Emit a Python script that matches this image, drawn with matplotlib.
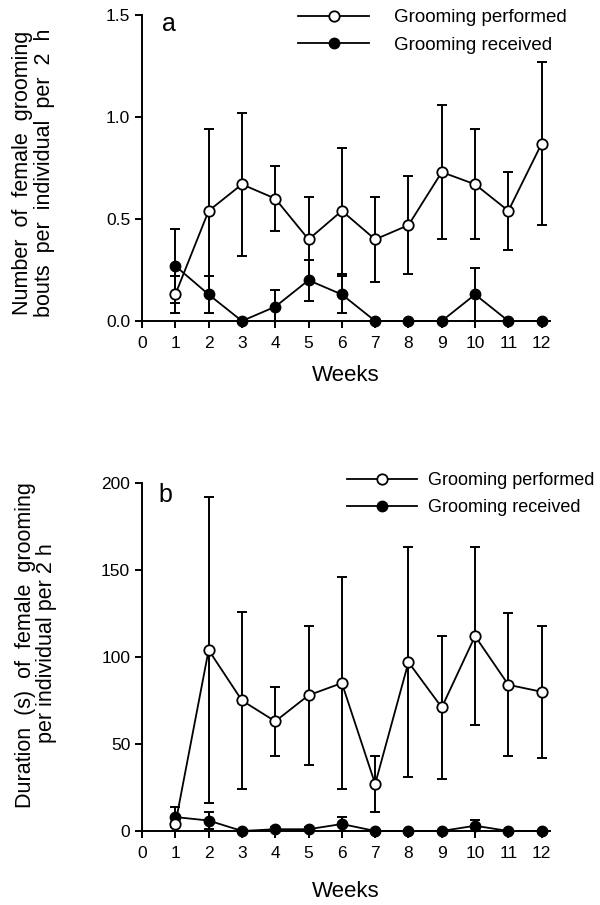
import numpy as np
from matplotlib import pyplot as plt

weeks = np.arange(1, 13)
week_labels = ['0', '1', '2', '3', '4', '5', '6', '7', '8', '9', '10', '11', '12']

# panel a: bouts per individual per 2 h
bouts_performed = [0.13, 0.54, 0.67, 0.60, 0.40, 0.54, 0.40, 0.47, 0.73, 0.67, 0.54, 0.87]
bouts_performed_se = [0.09, 0.40, 0.35, 0.16, 0.21, 0.31, 0.21, 0.24, 0.33, 0.27, 0.19, 0.40]
bouts_received = [0.27, 0.13, 0.0, 0.07, 0.20, 0.13, 0.0, 0.0, 0.0, 0.13, 0.0, 0.0]
bouts_received_se = [0.18, 0.09, 0.0, 0.08, 0.10, 0.09, 0.0, 0.0, 0.0, 0.13, 0.0, 0.0]

# panel b: duration (s) per individual per 2 h
dur_performed = [4, 104, 75, 63, 78, 85, 27, 97, 71, 112, 84, 80]
dur_performed_se = [4, 88, 51, 20, 40, 61, 16, 66, 41, 51, 41, 38]
dur_received = [8, 6, 0, 1, 1, 4, 0, 0, 0, 3, 0, 0]
dur_received_se = [6, 5, 0, 1, 1, 4, 0, 0, 0, 3.5, 0, 0]

plt.rcParams['font.family'] = ['Liberation Sans', 'DejaVu Sans']


def draw_panel(ax, performed, performed_se, received, received_se, ymax, yticks,
               yfmt, xlabelpad):
    ax.errorbar(weeks, performed, yerr=performed_se, fmt='none', ecolor='black',
                elinewidth=1.4, capsize=3.5, capthick=1.4, zorder=2)
    ax.errorbar(weeks, received, yerr=received_se, fmt='none', ecolor='black',
                elinewidth=1.4, capsize=3.5, capthick=1.4, zorder=2)
    ax.plot(weeks, received, '-o', color='black', markerfacecolor='black',
            markersize=7.5, linewidth=1.3, clip_on=False, zorder=3,
            label='Grooming received')
    ax.plot(weeks, performed, '-o', color='black', markerfacecolor='white',
            markeredgewidth=1.3, markersize=7.5, linewidth=1.3, clip_on=False,
            zorder=4, label='Grooming performed')
    ax.set_xlim(0, 12.25)
    ax.set_ylim(0, ymax)
    ax.set_xticks(range(13))
    ax.set_xticklabels(week_labels)
    ax.set_yticks(yticks)
    ax.set_yticklabels([yfmt.format(v) for v in yticks])
    for side in ['top', 'right']:
        ax.spines[side].set_visible(False)
    for side in ['left', 'bottom']:
        ax.spines[side].set_linewidth(1.4)
    ax.tick_params(direction='out', length=5, width=1.4, labelsize=12.5)
    ax.tick_params(axis='x', pad=6)
    ax.set_xlabel('Weeks', fontsize=16, labelpad=xlabelpad)


fig = plt.figure(figsize=(6, 9.05), dpi=100)

ax_a = fig.add_axes([0.2367, 0.6453, 0.68, 0.3381])
draw_panel(ax_a, bouts_performed, bouts_performed_se, bouts_received,
           bouts_received_se, 1.5, [0.0, 0.5, 1.0, 1.5], '{:.1f}', 10)
ax_a.text(0.05, 0.97, 'a', transform=ax_a.transAxes, fontsize=18, va='center')

ax_b = fig.add_axes([0.2367, 0.0818, 0.68, 0.3845])
draw_panel(ax_b, dur_performed, dur_performed_se, dur_received,
           dur_received_se, 200, [0, 50, 100, 150, 200], '{:.0f}', 14)
ax_b.text(0.04, 0.965, 'b', transform=ax_b.transAxes, fontsize=18, va='center')

# legends (performed first)
for ax, anchor, hlen, hpad, fs in [(ax_a, (0.497, 0.99), 3.8, 1.3, 13.5),
                                   (ax_b, (0.578, 0.478), 3.9, 0.6, 13)]:
    h, l = ax.get_legend_handles_labels()
    fig.legend(h[::-1], l[::-1], loc='upper left', bbox_to_anchor=anchor,
               frameon=False, fontsize=fs, handlelength=hlen,
               handletextpad=hpad, labelspacing=0.55, borderpad=0,
               borderaxespad=0)

# two-line y labels
fig.text(0.038, 1 - 173 / 905, 'Number  of  female  grooming', rotation=90,
         ha='center', va='center', fontsize=15.5)
fig.text(0.074, 1 - 173 / 905, 'bouts  per  individual  per  2  h', rotation=90,
         ha='center', va='center', fontsize=15.5)
fig.text(0.042, 1 - 645 / 905, 'Duration  (s)  of  female  grooming', rotation=90,
         ha='center', va='center', fontsize=15.5)
fig.text(0.078, 1 - 643 / 905, 'per individual per 2 h', rotation=90,
         ha='center', va='center', fontsize=15.5)

fig.savefig('out.png', dpi=100)
